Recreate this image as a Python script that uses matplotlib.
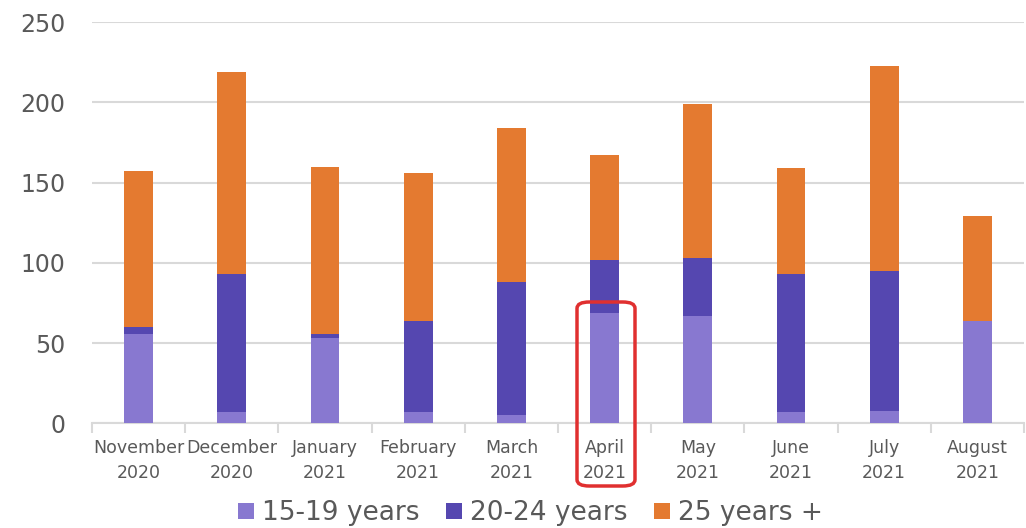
import numpy as np
import matplotlib
matplotlib.use("Agg")
import matplotlib.pyplot as plt
from matplotlib.patches import FancyBboxPatch

# data
months = ["November\n2020", "December\n2020", "January\n2021", "February\n2021", "March\n2021",
          "April\n2021", "May\n2021", "June\n2021", "July\n2021", "August\n2021"]
age_15_19 = [56, 7, 53, 7, 5, 69, 67, 7, 8, 64]
age_20_24 = [4, 86, 3, 57, 83, 33, 36, 86, 87, 0]
age_25_plus = [97, 126, 104, 92, 96, 65, 96, 66, 128, 65]

c_light = "#8878d0"
c_dark = "#5547b0"
c_orange = "#e47a30"
grid_c = "#d9d9d9"
txt_c = "#595959"

fig = plt.figure(figsize=(10.26, 5.28), dpi=100)
ax = fig.add_axes([0.0897, 0.198, 0.9083, 0.760])

x = np.arange(len(months))
a = np.array(age_15_19)
b = np.array(age_20_24)
c = np.array(age_25_plus)
w = 0.31
ax.bar(x, a, w, color=c_light, label="15-19 years", zorder=3)
ax.bar(x, b, w, bottom=a, color=c_dark, label="20-24 years", zorder=3)
ax.bar(x, c, w, bottom=a + b, color=c_orange, label="25 years +", zorder=3)

ax.set_xlim(-0.5, len(months) - 0.5)
ax.set_ylim(0, 250)
ax.set_yticks(range(0, 251, 50))
ax.yaxis.grid(True, color=grid_c, linewidth=1.5, zorder=0)
for s in ["left", "right", "top"]:
    ax.spines[s].set_visible(False)
ax.spines["bottom"].set_color(grid_c)
ax.spines["bottom"].set_linewidth(1.5)

ax.set_xticks(x)
ax.set_xticklabels(months, fontsize=12.5, color=txt_c, linespacing=1.5)
ax.set_xticks(np.arange(len(months) + 1) - 0.5, minor=True)
ax.tick_params(axis="x", which="major", length=0, pad=11)
ax.tick_params(axis="x", which="minor", length=7, color=grid_c, width=1.5)
ax.tick_params(axis="y", length=0, labelsize=17, labelcolor=txt_c, pad=19)

# red highlight around April
box = FancyBboxPatch((577 / 1026, (528 - 486) / 528), 58 / 1026, 184 / 528,
                     boxstyle="round,pad=0,rounding_size=0.012",
                     transform=fig.transFigure, fill=False, edgecolor="#e03030",
                     linewidth=2.5, zorder=10)
fig.patches.append(box)

fig.legend(loc="center", bbox_to_anchor=(0.517, 0.028), ncol=3, frameon=False,
           fontsize=19, handlelength=0.6, handleheight=0.6, handletextpad=0.3,
           columnspacing=1.0, labelcolor=txt_c)

plt.savefig("out.png", dpi=100)
